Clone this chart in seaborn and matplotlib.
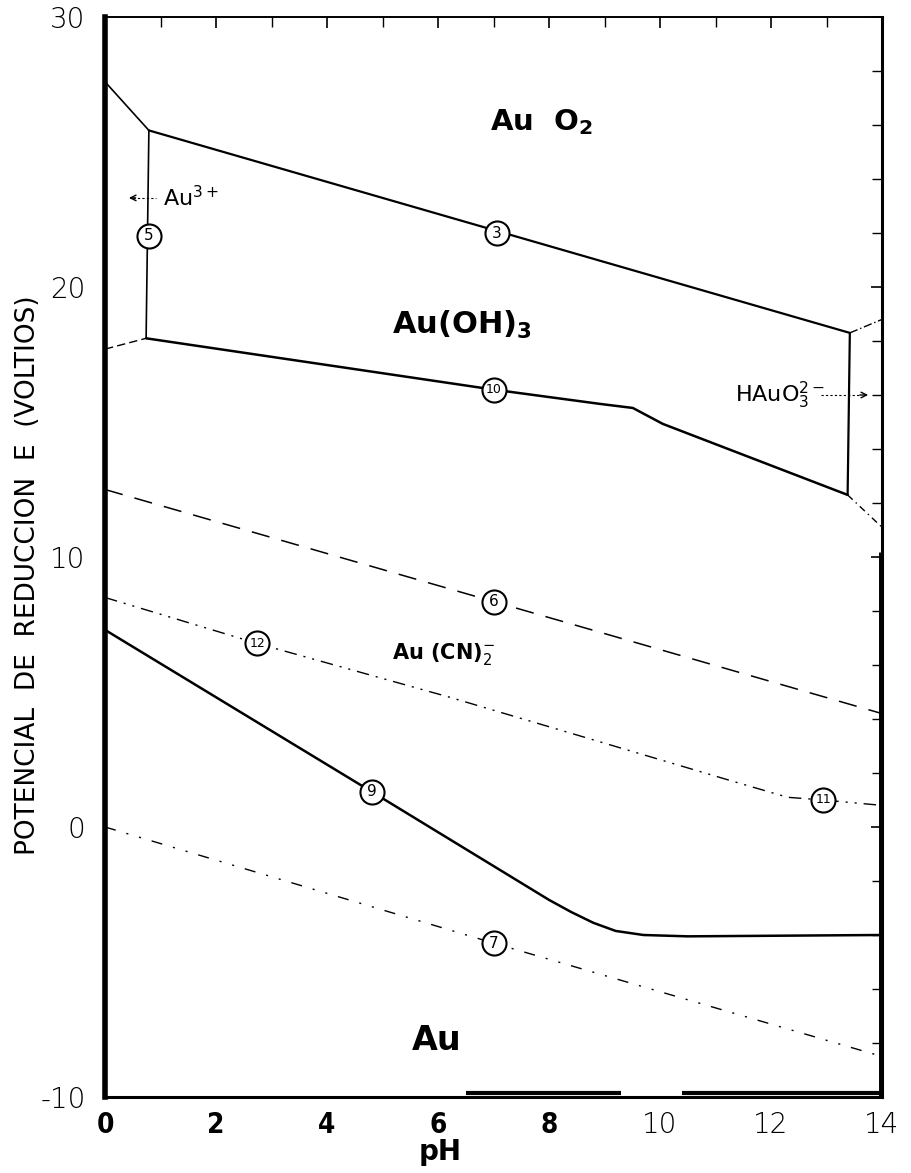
import numpy as np
import pandas as pd
import matplotlib
matplotlib.use("Agg")
import matplotlib.pyplot as plt
import seaborn as sns

# boundary lines of the Au-H2O-CN Pourbaix diagram (pH, E in volts)
ph_top_left = [0, 0.79]
e_top_left = [2.76, 2.58]
ph_line3 = [0.79, 13.42]
e_line3 = [2.58, 1.83]
ph_top_right = [13.42, 14]
e_top_right = [1.83, 1.88]
ph_line5 = [0.79, 0.74]
e_line5 = [2.58, 1.81]
ph_left_dash = [0, 0.74]
e_left_dash = [1.77, 1.81]
ph_line10 = [0.74, 7.0, 8.92, 9.51, 10.05, 13.38]
e_line10 = [1.81, 1.62, 1.567, 1.552, 1.493, 1.23]
ph_right_vert = [13.42, 13.38]
e_right_vert = [1.83, 1.23]
ph_right_dash = [13.38, 14]
e_right_dash = [1.23, 1.11]
ph_line6 = [0, 7, 14]
e_line6 = [1.25, 0.835, 0.42]
ph_line12 = [0, 2.74, 6.22, 11.3, 12.3, 12.94, 14]
e_line12 = [0.85, 0.68, 0.48, 0.17, 0.11, 0.10, 0.08]
ph_line9 = [0, 4.81, 8.0, 8.4, 8.8, 9.2, 9.7, 10.5, 14]
e_line9 = [0.73, 0.13, -0.27, -0.315, -0.355, -0.385, -0.40, -0.405, -0.40]
ph_line7 = [0, 7, 14]
e_line7 = [0.0, -0.43, -0.85]

# numbered circles
circle_num = ["5", "3", "10", "6", "12", "9", "11", "7"]
circle_ph = [0.79, 7.06, 7.0, 7.0, 2.74, 4.81, 12.94, 7.0]
circle_e = [2.19, 2.20, 1.62, 0.835, 0.68, 0.13, 0.10, -0.43]

yticks = [-1.0, 0.0, 1.0, 2.0, 3.0]
ytick_labels = ["-10", "0", "10", "20", "30"]
xticks = [0, 2, 4, 6, 8, 10, 12, 14]
xtick_labels = ["0", "2", "4", "6", "8", "10", "12", "14"]

sns.set_style("white")
plt.rcParams["font.family"] = ["DejaVu Sans"]
for key in ["text.color", "axes.labelcolor", "xtick.color", "ytick.color",
            "axes.edgecolor"]:
    plt.rcParams[key] = "black"

fig = plt.figure(figsize=(9.11, 11.73), dpi=100)
ax = fig.add_axes([0.1153, 0.0648, 0.8529, 0.9207])

def draw(ph, e, lw=1.4, ls="-"):
    df = pd.DataFrame({"pH": ph, "E": e})
    sns.lineplot(data=df, x="pH", y="E", sort=False, color="black",
                 linewidth=lw, linestyle=ls, ax=ax)

draw(ph_top_left, e_top_left, 1.2)
draw(ph_line3, e_line3, 1.6)
draw(ph_top_right, e_top_right, 1.0, (0, (6, 2, 1, 2)))
draw(ph_line5, e_line5, 1.2)
draw(ph_left_dash, e_left_dash, 1.0, (0, (6, 3)))
draw(ph_line10, e_line10, 1.8)
draw(ph_right_vert, e_right_vert, 1.6)
draw(ph_right_dash, e_right_dash, 1.0, (0, (5, 3, 1, 3)))
draw(ph_line6, e_line6, 1.1, (0, (12, 8)))
draw(ph_line12, e_line12, 1.0, (0, (9, 5, 1.5, 5, 1.5, 5)))
draw(ph_line9, e_line9, 1.8)
draw(ph_line7, e_line7, 1.0, (0, (8, 8, 1.5, 8, 1.5, 8)))

# scan artefacts: thick bars along the bottom axis and right edge
ax.plot([6.5, 9.3], [-0.985, -0.985], color="black", lw=3, solid_capstyle="butt")
ax.plot([10.4, 14], [-0.985, -0.985], color="black", lw=3, solid_capstyle="butt")
ax.plot([14, 14], [-1.0, 1.02], color="black", lw=5, solid_capstyle="butt")

circ = pd.DataFrame({"pH": circle_ph, "E": circle_e})
sns.scatterplot(data=circ, x="pH", y="E", s=300, color="white",
                edgecolor="black", linewidth=1.5, zorder=5, ax=ax)
for n, x, y in zip(circle_num, circle_ph, circle_e):
    ax.text(x, y, n, ha="center", va="center",
            fontsize=11 if len(n) == 1 else 9, zorder=6)

# region labels
ax.text(7.86, 2.61, r"Au  O$_\mathbf{2}$", ha="center", va="center",
        fontsize=21, fontweight="bold")
ax.text(6.43, 1.86, r"Au(OH)$_\mathbf{3}$", ha="center", va="center",
        fontsize=22, fontweight="bold")
ax.text(6.1, 0.64, r"Au (CN)$^{-}_{2}$", ha="center", va="center",
        fontsize=15, fontweight="bold")
ax.text(5.98, -0.79, "Au", ha="center", va="center",
        fontsize=24, fontweight="bold")
ax.text(1.05, 2.33, r"Au$^{3+}$", ha="left", va="center", fontsize=16)
ax.plot([0.5, 0.92], [2.33, 2.33], color="black", lw=0.8, ls=(0, (2, 2)))
ax.annotate("", xy=(0.38, 2.33), xytext=(0.6, 2.33),
            arrowprops=dict(arrowstyle="->", lw=1.0, color="black"))
ax.text(11.35, 1.60, r"HAuO$_3^{2-}$", ha="left", va="center", fontsize=16)
ax.plot([12.9, 13.6], [1.60, 1.60], color="black", lw=0.8, ls=(0, (2, 2)))
ax.annotate("", xy=(13.8, 1.60), xytext=(13.55, 1.60),
            arrowprops=dict(arrowstyle="->", lw=1.0, color="black"))

ax.set_xlim(0, 14)
ax.set_ylim(-1.0, 3.0)
ax.set_xticks(xticks)
ax.set_xticklabels(xtick_labels)
ax.set_yticks(yticks)
ax.set_yticklabels(ytick_labels)
ax.set_xticks(np.arange(0, 15, 1), minor=True)
ax.set_yticks(np.arange(-1.0, 3.01, 0.2), minor=True)
ax.tick_params(axis="both", which="both", direction="in", top=True, right=True,
               color="black")
ax.tick_params(axis="both", which="major", length=8, width=1.2)
ax.tick_params(axis="both", which="minor", length=7, width=1.0)
ax.tick_params(axis="y", which="major", pad=14, labelsize=20)
ax.tick_params(axis="x", which="major", pad=10, labelsize=20)
for i, lab in enumerate(ax.get_xticklabels()):
    if i < 5:
        lab.set_fontweight("bold")
        lab.set_fontstretch("condensed")
    else:
        lab.set_fontweight("light")
for lab in ax.get_yticklabels():
    lab.set_fontweight("light")

for side, lw in [("left", 4), ("right", 2.2), ("bottom", 2.2), ("top", 1.4)]:
    ax.spines[side].set_visible(True)
    ax.spines[side].set_linewidth(lw)
    ax.spines[side].set_color("black")

ax.set_xlabel("pH", fontsize=20, fontweight="bold", labelpad=4)
ax.xaxis.set_label_coords(0.431, -0.038)
ax.set_ylabel("POTENCIAL  DE  REDUCCION  E  (VOLTIOS)", fontsize=19, labelpad=10)
ax.yaxis.set_label_coords(-0.082, 0.483)

fig.savefig("out.png", dpi=100, facecolor="white")
